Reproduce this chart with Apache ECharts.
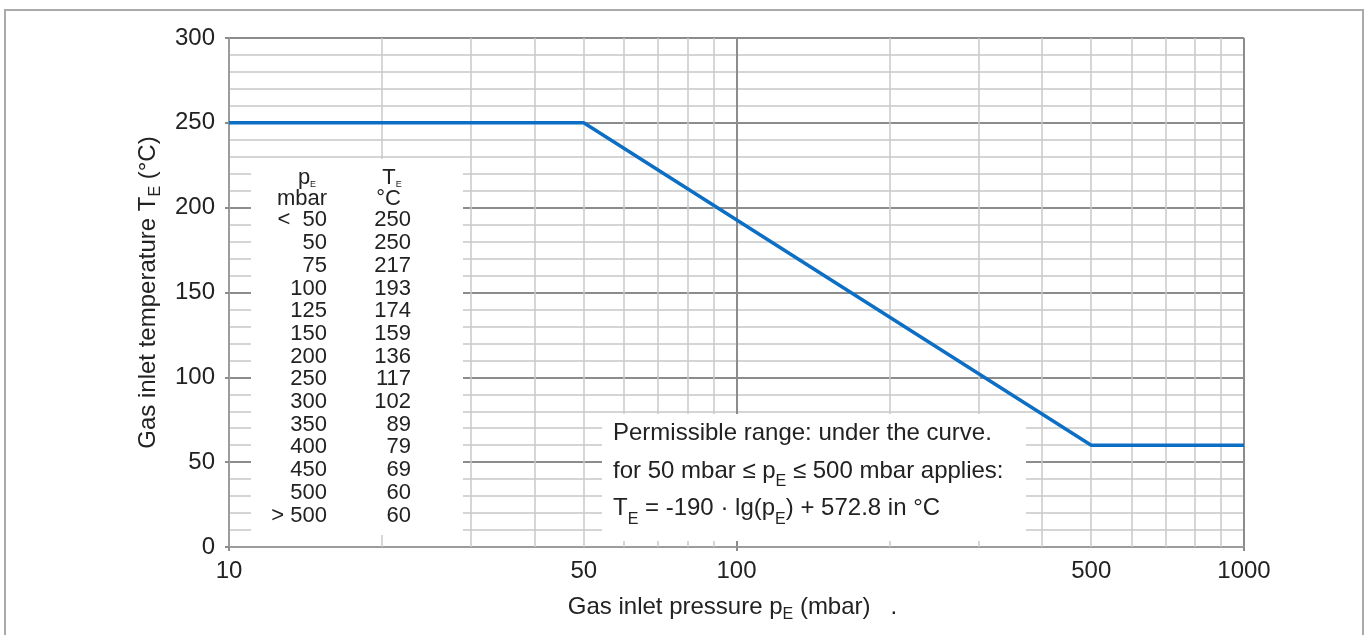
<!DOCTYPE html>
<html>
<head>
<meta charset="UTF-8">
<title>Gas inlet temperature</title>
<script src="https://cdn.jsdelivr.net/npm/echarts@6/dist/echarts.min.js"></script>
<style>
    html, body { margin: 0; padding: 0; background: #fff; }
    #main { width: 1371px; height: 635px; }
</style>
</head>
<body>
<div id="main"></div>
<script type="text/javascript">
// curve corners, pressure (mbar) -> temperature (°C)
var curvePressure = [10, 50, 500, 1000];
var curveTemp = [250, 250, 60, 60];

// table in the chart
var tablePressure = ['<  50', '50', '75', '100', '125', '150', '200', '250', '300', '350', '400', '450', '500', '> 500'];
var tableTemp = ['250', '250', '217', '193', '174', '159', '136', '117', '102', '89', '79', '69', '60', '60'];

// x axis labels and the light vertical grid lines
var xLabelValues = [10, 50, 100, 500, 1000];
var xMinorLines = [20, 30, 40, 50, 60, 70, 80, 90, 200, 300, 400, 500, 600, 700, 800, 900];

var noteLines = [
    'Permissible range: under the curve.',
    'for 50 mbar \u2264 p{e|E} \u2264 500 mbar applies:',
    'T{e|E} = -190 \u00b7 lg(p{e|E}) + 572.8 in \u00b0C'
];

var FONT = "'Liberation Sans', Arial, sans-serif";
var TXT = '#222';

var myChart = echarts.init(document.getElementById('main'));

var curveData = [];
for (var i = 0; i < curvePressure.length; i++) {
    curveData.push([curvePressure[i], curveTemp[i]]);
}

function sub(size, lh) {
    return { fontSize: size, lineHeight: lh, verticalAlign: 'bottom', fontFamily: FONT, color: TXT };
}

var option = {
    animation: false,
    backgroundColor: '#fff',
    grid: { left: 229, top: 38, right: 127, bottom: 88, containLabel: false },
    xAxis: {
        type: 'log',
        logBase: 10,
        min: 10,
        max: 1000,
        name: 'Gas inlet pressure p{e|E} (mbar)   .',
        nameLocation: 'middle',
        nameGap: 44,
        nameTextStyle: {
            fontSize: 24, color: TXT, fontFamily: FONT, lineHeight: 32,
            padding: [0, 8, 0, 0],
            rich: { e: sub(16, 16) }
        },
        axisLine: { show: true, lineStyle: { color: '#9c9c9c', width: 2 } },
        axisTick: { show: true, length: 4, lineStyle: { color: '#8c8c8c', width: 2 } },
        axisLabel: {
            customValues: xLabelValues,
            fontSize: 24, color: TXT, fontFamily: FONT, margin: 12,
            formatter: function (v) { return String(Math.round(v)); }
        },
        splitLine: { show: true, showMinLine: false, lineStyle: { color: '#8c8c8c', width: 2 } },
        minorTick: { show: false },
        minorSplitLine: { show: false }
    },
    yAxis: {
        type: 'value',
        min: 0,
        max: 300,
        interval: 50,
        name: 'Gas inlet temperature T{e|E} (\u00b0C)',
        nameLocation: 'middle',
        nameRotate: 90,
        nameGap: 65,
        nameTextStyle: {
            fontSize: 24, color: TXT, fontFamily: FONT, lineHeight: 32,
            rich: { e: sub(16, 16) }
        },
        axisLine: { show: true, lineStyle: { color: '#9c9c9c', width: 2 } },
        axisTick: { show: true, length: 4, lineStyle: { color: '#8c8c8c', width: 2 } },
        axisLabel: { fontSize: 24, color: TXT, fontFamily: FONT, margin: 14 },
        splitLine: { show: true, showMinLine: false, lineStyle: { color: '#8c8c8c', width: 2 } },
        minorTick: { show: false, splitNumber: 5 },
        minorSplitLine: { show: true, lineStyle: { color: '#c8c8c8', width: 1.5 } }
    },
    series: [{
        name: 'grid',
        type: 'line',
        z: 1,
        silent: true,
        showSymbol: false,
        lineStyle: { opacity: 0 },
        data: curveData,
        markLine: {
            silent: true,
            symbol: 'none',
            z: 1,
            animation: false,
            label: { show: false },
            lineStyle: { color: '#c8c8c8', width: 1.5, type: 'solid' },
            data: xMinorLines.map(function (v) { return { xAxis: v }; })
        }
    }, {
        name: 'TE',
        type: 'line',
        z: 3,
        showSymbol: false,
        lineStyle: { color: '#0d6fc4', width: 3.5 },
        data: curveData
    }],
    graphic: [
        // outer frame
        { type: 'rect', z: 100, shape: { x: 5, y: 10, width: 1358, height: 640 },
          style: { fill: 'none', stroke: '#aaaaaa', lineWidth: 2 } },
        // white boxes behind the table and the note
        { type: 'rect', z: 100, shape: { x: 251, y: 159, width: 212, height: 376 }, style: { fill: '#fff' } },
        { type: 'rect', z: 100, shape: { x: 602, y: 414, width: 424, height: 127 }, style: { fill: '#fff' } },
        // table header
        { type: 'text', z: 101, x: 307, y: 178,
          style: { text: 'p{e|E}', align: 'center', verticalAlign: 'middle', fontSize: 22, lineHeight: 22,
                   fontFamily: FONT, fill: TXT, rich: { e: sub(9, 14) } } },
        { type: 'text', z: 101, x: 392, y: 178,
          style: { text: 'T{e|E}', align: 'center', verticalAlign: 'middle', fontSize: 22, lineHeight: 22,
                   fontFamily: FONT, fill: TXT, rich: { e: sub(9, 14) } } },
        { type: 'text', z: 101, x: 327, y: 199,
          style: { text: 'mbar', align: 'right', verticalAlign: 'middle', fontSize: 22, fontFamily: FONT, fill: TXT } },
        { type: 'text', z: 101, x: 401, y: 199,
          style: { text: '\u00b0C', align: 'right', verticalAlign: 'middle', fontSize: 22, fontFamily: FONT, fill: TXT } },
        // table columns
        { type: 'text', z: 101, x: 327, y: 209,
          style: { text: tablePressure.join('\n'), align: 'right', verticalAlign: 'top', fontSize: 22,
                   lineHeight: 22.7, fontFamily: FONT, fill: TXT } },
        { type: 'text', z: 101, x: 411, y: 209,
          style: { text: tableTemp.join('\n'), align: 'right', verticalAlign: 'top', fontSize: 22,
                   lineHeight: 22.7, fontFamily: FONT, fill: TXT } },
        // note
        { type: 'text', z: 101, x: 613, y: 415,
          style: { text: noteLines.join('\n'), align: 'left', verticalAlign: 'top', fontSize: 24,
                   lineHeight: 37.5, fontFamily: FONT, fill: TXT, rich: { e: sub(16, 20) } } }
    ]
};

myChart.setOption(option);
</script>
</body>
</html>
